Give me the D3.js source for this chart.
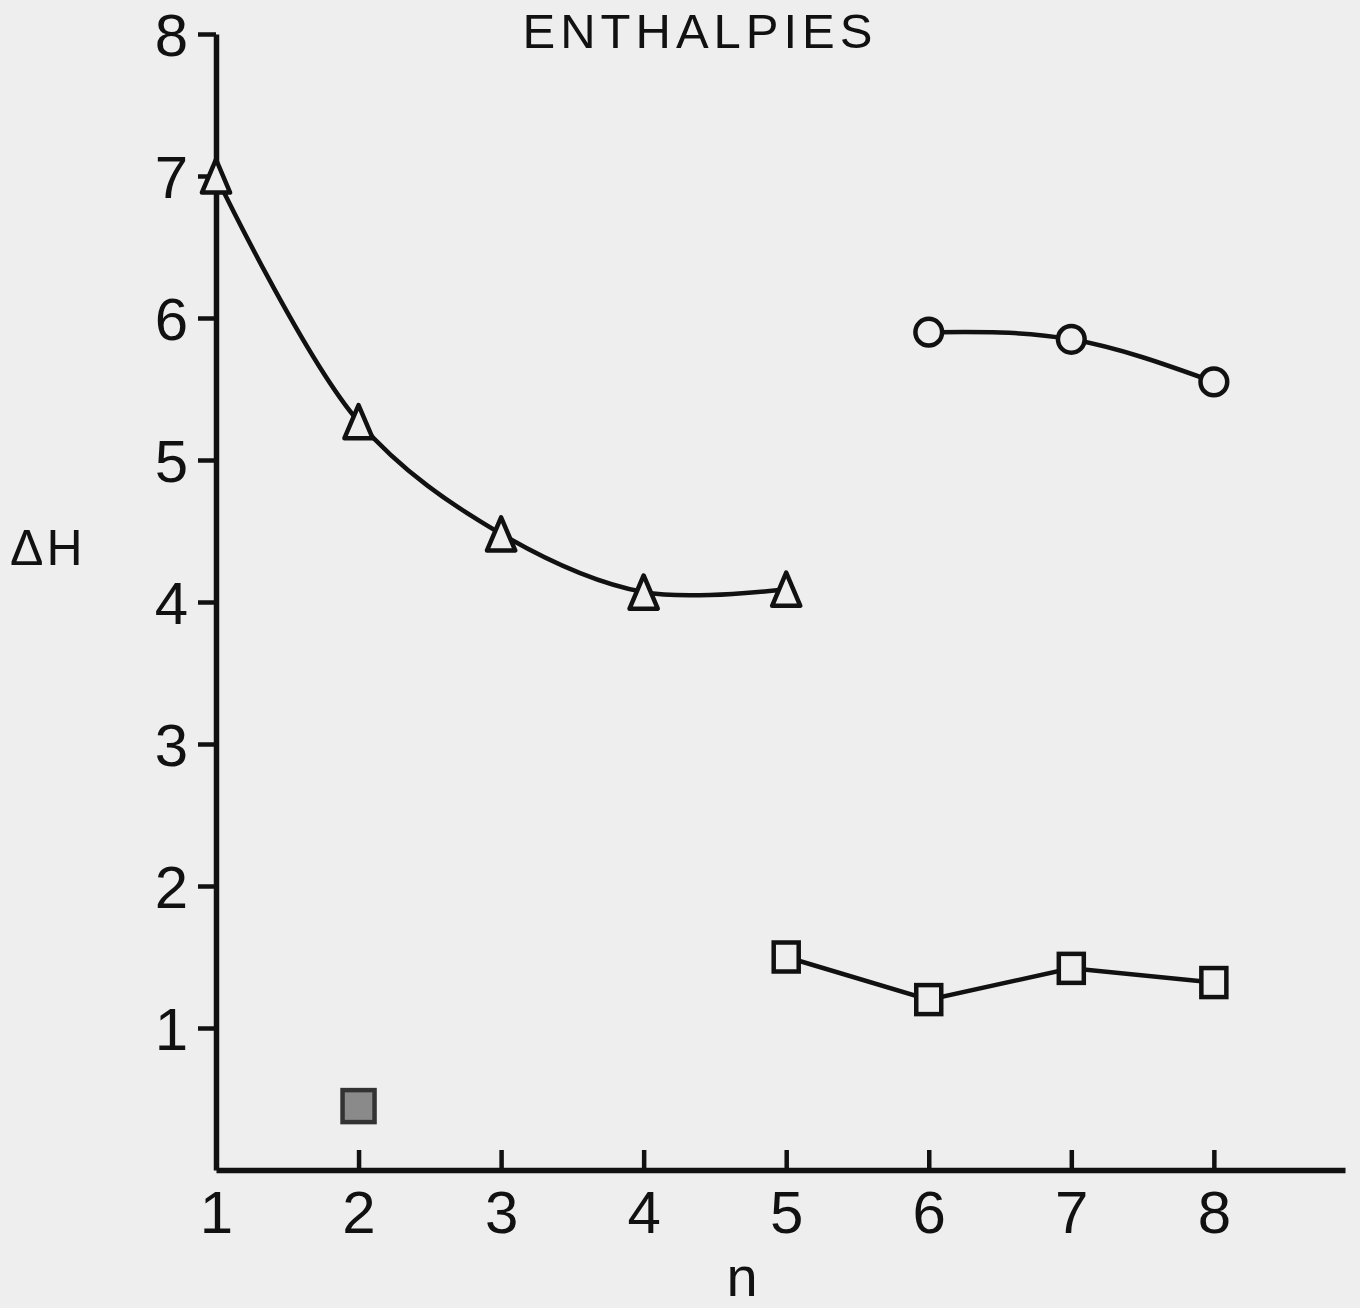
<!DOCTYPE html>
<html>
<head>
<meta charset="utf-8">
<script src="https://cdn.jsdelivr.net/npm/d3@7"></script>
<style>
  body { margin: 0; background: #eeeeee; }
  svg { display: block; }
  text { font-family: "Liberation Sans", Arial, sans-serif; fill: #111; }
</style>
</head>
<body>
<div id="canvas" class="canvas"></div>
<script>
// --- data
var triN = [1, 2, 3, 4, 5];
var triH = [7.0, 5.27, 4.48, 4.07, 4.09];

var circN = [6, 7, 8];
var circH = [5.9, 5.85, 5.55];

var sqN = [5, 6, 7, 8];
var sqH = [1.5, 1.2, 1.42, 1.32];

var solidN = [2];
var solidH = [0.45];

var xTicks = [1, 2, 3, 4, 5, 6, 7, 8];
var yTicks = [1, 2, 3, 4, 5, 6, 7, 8];

// --- size
var W = 1360, H = 1308;
var ink = '#111';
var paper = '#eeeeee';

var svg = d3.select('.canvas')
    .append('svg')
    .attr('width', W)
    .attr('height', H);

svg.append('rect')
    .attr('width', W)
    .attr('height', H)
    .style('fill', paper);

var x = d3.scaleLinear().domain([1, 8.92]).range([216, 1345]);
var y = d3.scaleLinear().domain([0, 8]).range([1170, 34]);

// --- axes
var xAxis = d3.axisBottom(x)
    .tickValues(xTicks)
    .tickSizeInner(-20)
    .tickSizeOuter(0)
    .tickPadding(20)
    .tickFormat(d3.format('d'));

var yAxis = d3.axisLeft(y)
    .tickValues(yTicks)
    .tickSizeInner(18)
    .tickSizeOuter(0)
    .tickPadding(10)
    .tickFormat(d3.format('d'));

var gx = svg.append('g')
    .attr('transform', 'translate(0,' + y(0) + ')')
    .call(xAxis);

var gy = svg.append('g')
    .attr('transform', 'translate(' + x(1) + ',0)')
    .call(yAxis);

[gx, gy].forEach(function(g) {
    g.select('.domain').style('stroke', ink).style('stroke-width', 5.5);
    g.selectAll('.tick line').style('stroke', ink).style('stroke-width', 4.5);
    g.selectAll('.tick text')
        .style('font-size', '60px')
        .style('font-family', '"Liberation Sans", Arial, sans-serif')
        .style('fill', ink);
});
gy.selectAll('.tick text').attr('dy', '0.36em');
// no tick mark at n = 1 on the bottom axis
gx.selectAll('.tick').filter(function(d) { return d === 1; }).select('line').remove();

// --- labels
svg.append('text')
    .attr('x', 700)
    .attr('y', 48)
    .attr('text-anchor', 'middle')
    .style('font-size', '49px')
    .style('letter-spacing', '5px')
    .text('ENTHALPIES');

svg.append('text')
    .attr('x', 10)
    .attr('y', 565)
    .style('font-size', '50px')
    .style('letter-spacing', '3px')
    .text('ΔH');

svg.append('text')
    .attr('x', 742)
    .attr('y', 1296)
    .attr('text-anchor', 'middle')
    .style('font-size', '56px')
    .text('n');

// --- series
function pts(ns, hs) {
    return ns.map(function(n, i) { return {n: n, h: hs[i]}; });
}

var tri = pts(triN, triH);
var circ = pts(circN, circH);
var sq = pts(sqN, sqH);
var solid = pts(solidN, solidH);

function lineOf(curve) {
    return d3.line()
        .x(function(d) { return x(d.n); })
        .y(function(d) { return y(d.h); })
        .curve(curve);
}

function drawLine(data, curve) {
    svg.append('path')
        .datum(data)
        .attr('d', lineOf(curve))
        .style('fill', 'none')
        .style('stroke', ink)
        .style('stroke-width', 4.5);
}

drawLine(tri, d3.curveCatmullRom.alpha(0.5));
drawLine(circ, d3.curveNatural);
drawLine(sq, d3.curveLinear);

// tall narrow triangle like the hand-drawn ones
var tallTriangle = {
    draw: function(context, size) {
        var w = Math.sqrt(size) * 0.85, h = Math.sqrt(size);
        context.moveTo(0, -h / 2);
        context.lineTo(w / 2, h / 2);
        context.lineTo(-w / 2, h / 2);
        context.closePath();
    }
};

function markers(data, type, size, fill) {
    svg.append('g').selectAll('path')
        .data(data)
        .enter()
        .append('path')
        .attr('transform', function(d) { return 'translate(' + x(d.n) + ',' + y(d.h) + ')'; })
        .attr('d', d3.symbol().type(type).size(size))
        .style('fill', fill)
        .style('stroke', ink)
        .style('stroke-width', 4.5)
        .style('stroke-linejoin', 'round');
}

function boxes(data, bw, bh, fill, stroke) {
    svg.append('g').selectAll('rect')
        .data(data)
        .enter()
        .append('rect')
        .attr('x', function(d) { return x(d.n) - bw / 2; })
        .attr('y', function(d) { return y(d.h) - bh / 2; })
        .attr('width', bw)
        .attr('height', bh)
        .style('fill', fill)
        .style('stroke', stroke)
        .style('stroke-width', 4.5);
}

markers(tri, tallTriangle, 1100, paper);
markers(circ, d3.symbolCircle, 560, paper);
boxes(sq, 25, 29, paper, ink);
boxes(solid, 32, 32, '#8a8a8a', '#333');
</script>
</body>
</html>
